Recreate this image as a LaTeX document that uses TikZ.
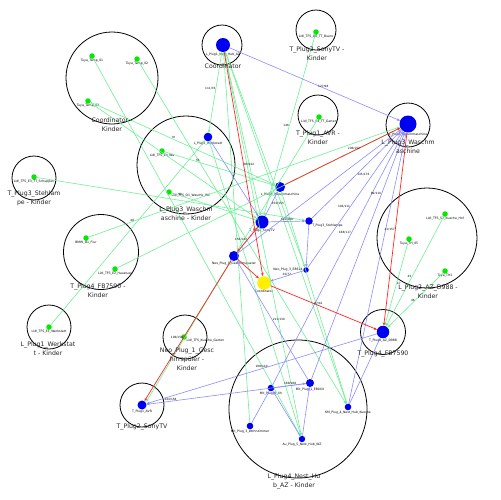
\documentclass[tikz,border=0pt]{standalone}
\usepackage{fontspec}
\setmainfont{DejaVu Sans}
\usetikzlibrary{arrows.meta}
\definecolor{gnode}{RGB}{0,235,0}
\definecolor{gedge}{RGB}{110,240,150}
\definecolor{bedge}{RGB}{140,140,255}
\definecolor{redge}{RGB}{255,40,40}
\definecolor{bnode}{RGB}{0,0,240}
\definecolor{ynode}{RGB}{255,240,0}
\begin{document}
\begin{tikzpicture}[x=1pt,y=-1pt,
  clu/.style={circle, draw=black, line width=0.8pt, inner sep=0, minimum size=#1},
  ct/.style={font=\fontsize{6.2}{9}\selectfont, align=center, text=black!85, inner sep=0},
  lb/.style={font=\fontsize{3.1}{3.5}\selectfont, inner sep=0.3pt},
  gn/.style={circle, fill=gnode, inner sep=0, minimum size=5.5pt, label distance=0.6pt},
  bn/.style={circle, fill=bnode, inner sep=0, minimum size=#1, label distance=0.8pt},
  yn/.style={circle, fill=ynode, inner sep=0, minimum size=#1, label distance=0.8pt},
  el/.style={font=\fontsize{2.9}{3.3}\selectfont, inner sep=0.2pt},
  arr/.style={-{Stealth[length=3.2pt,width=2.6pt]}},
  ge/.style={draw=gedge, line width=0.6pt, arr},
  be/.style={draw=bedge, line width=0.6pt, arr},
  re/.style={draw=redge, line width=0.7pt, arr}]
\useasboundingbox[fill=white] (0,0) rectangle (501,499);

% clusters
\node[clu=92pt] (kCK) at (112,78) {};
\node[clu=40pt] (kC) at (222,45) {};
\node[clu=40pt] (kS2) at (316,30) {};
\node[clu=40pt] (kA1) at (318,115) {};
\node[clu=44pt] (kWM) at (408,125) {};
\node[clu=98pt] (kWK) at (186,165) {};
\node[clu=44pt] (kSL) at (34,178) {};
\node[clu=75pt] (kFBK) at (101,252) {};
\node[clu=44pt] (kWS) at (49,327) {};
\node[clu=44pt] (kNeo) at (185,337) {};
\node[clu=44pt] (kTV) at (142,405) {};
\node[clu=45pt] (kFB) at (383,332) {};
\node[clu=100pt] (kAZ) at (427,238) {};
\node[clu=138pt] (kNH) at (298,409) {};

% green end devices
\node[gn, label={[lb]below:Tuya\_Temp\_01}] (t1) at (92,56) {};
\node[gn, label={[lb]below:Tuya\_Temp\_02}] (t2) at (137,59) {};
\node[gn, label={[lb]below:Tuya\_Temp\_03}] (t3) at (88,101) {};
\node[gn, label={[lb]below:Lidl\_TFS\_O6\_TT\_Buero}] (s2c) at (316,32) {};
\node[gn, label={[lb]below:Lidl\_TFS\_S4\_TT\_Garten}] (avc) at (319,117) {};
\node[gn, label={[lb]below:Lidl\_TFS\_E4\_Wa}] (e4) at (162,151) {};
\node[gn, label={[lb]below right:Lidl\_TFS\_O1\_Waschk\_WC}] (o1) at (169,192) {};
\node[gn, label={[lb]below:Lidl\_TFS\_E3\_TT\_Schuppen}] (e3) at (34,177) {};
\node[gn, label={[lb]below:BMW\_O1\_Flur}] (bmw) at (86,238) {};
\node[gn, label={[lb]below:Lidl\_TFS\_E2\_Haustuer}] (e2) at (115,269) {};
\node[gn, label={[lb]below:Lidl\_TFS\_E1\_Werkstatt}] (e1) at (49,327) {};
\node[gn, label={[lb]below right:Lidl\_TFS\_Kueche\_Garten}] (kg) at (184,337) {};
\node[gn, label={[lb]below:Lidl\_TFS\_S2\_Kueche\_Hof}] (kh) at (445,214) {};
\node[gn, label={[lb]below:Tuya\_TH\_05}] (th5) at (409,239) {};
\node[gn, label={[lb]below:Tuya\_TH1}] (th1) at (445,271) {};

% routers
\node[bn=14pt, label={[lb]below:L\_Plug1\_Nest\_Hub\_AZ}] (co) at (223,45) {};
\node[bn=17pt, label={[lb]below:L\_Plug3\_Waschmaschine}] (wm) at (408,124) {};
\node[bn=8.6pt, label={[lb]below:L\_Plug1\_Werkstatt}] (lw) at (208,137) {};
\node[bn=13pt, label={[lb]below:T\_Plug2\_SonyTV}] (ts) at (262,222) {};
\node[bn=10pt, label={[lb]below:L\_Plug3\_Waschmaschine}] (lwm) at (280,187) {};
\node[bn=7.5pt, label={[lb]below right:T\_Plug3\_Stehlampe}] (st) at (309,221) {};
\node[bn=10pt, label={[lb]below:Neo\_Plug\_1\_Geschirrspueler}] (neo) at (234,256) {};
\node[bn=5.5pt, label={[lb]left:Neo\_Plug\_3\_E8614}] (n3) at (306,270) {};
\node[yn=13.5pt, label={[lb]below:Coordinator}] (yel) at (264,283) {};
\node[bn=12.5pt, label={[lb]below:T\_Plug4\_AZ\_D988}] (fb) at (383,332) {};
\node[bn=9pt, label={[lb]below:T\_Plug1\_AVR}] (tv) at (142,405) {};
\node[bn=8pt, label={[lb]below:Mit\_Plug\_1\_EB0XX}] (p1) at (310,383) {};
\node[bn=6.6pt, label={[lb]below:Mit\_Plug\_2\_Xh}] (p2) at (271,388) {};
\node[bn=6.6pt, label={[lb]below:Mit\_Plug\_3\_Wohnzimmer}] (p3) at (250,426) {};
\node[bn=6.4pt, label={[lb]below:Au\_Plug\_5\_Nest\_Hub\_WZ}] (p5) at (302,439) {};
\node[bn=6.6pt, label={[lb]below:KM\_Plug\_4\_Nest\_Hub\_Kueche}] (km) at (348,407) {};

% green edges
\draw[ge] (t1) -- (p5);
\draw[ge] (t2) -- (km);
\draw[ge] (t3) -- (ts);
\draw[ge] (s2c) -- node[el, pos=0.5, left]{146} (ts);
\draw[ge] (avc) -- (neo);
\draw[ge] (e3) -- (st);
\draw[ge] (bmw) -- node[el, pos=0.14, above]{46} (wm);
\draw[ge] (e2) -- (wm);
\draw[ge] (e1) -- (lw);
\draw[ge] (kg) -- (neo);
\draw[ge] ([xshift=1pt]neo.south west) -- ([xshift=1pt]tv.north east);
\draw[ge] (kh) -- node[el, pos=0.55, left]{45} (fb);
\draw[ge] (th5) -- node[el, pos=0.5, right]{47} (fb);
\draw[ge] (th1) -- node[el, pos=0.5, left]{46} (fb);
\draw[ge] (co) -- node[el, pos=0.45, left]{111/76} (lw);
\draw[ge] (co) -- (km);
\draw[ge] (co) -- (p5);
\draw[ge] (co) -- (ts);
\draw[ge] (co) -- (n3);
\draw[ge] (p3) -- (co);
\draw[ge] (p5) -- (lw);
\draw[ge] (km) -- (lwm);
\draw[ge] (e4) -- node[el, pos=0.3, above]{55} (lwm);
\draw[ge] (o1) -- node[el, pos=0.1, above]{51} (ts);
\draw[ge] (t3) -- node[el, pos=0.45, above]{M} (lwm);

% blue edges
\draw[be] (co) -- node[el, pos=0.55, above]{127/98} (wm);
\draw[be] (ts) -- node[el, pos=0.5, above]{180/180} (st);
\draw[be] (lw) -- (ts);
\draw[be] (neo) -- (wm);
\draw[be] (st) -- node[el, pos=0.5, right]{145/176} (wm);
\draw[be] (n3) -- node[el, pos=0.45, left]{146/111} (wm);
\draw[be] (p2) -- node[el, pos=0.6, left]{168/117} (wm);
\draw[be] (p1) -- node[el, pos=0.75, left]{89/110} (wm);
\draw[be] (km) -- (wm);
\draw[be] (fb) -- node[el, pos=0.5, above]{188/140} (tv);
\draw[be] (p1) -- node[el, pos=0.85, above]{244/158} (tv);
\draw[be] (p1) -- node[el, pos=0.5, right]{211/130} (neo);
\draw[be] (p3) -- (p2);
\draw[be] (p5) -- (p2);
\draw[be] (p5) -- (p1);
\draw[be] (km) -- (fb);
\draw[be] (st) -- (n3);
\draw[be] (ts) -- node[el, pos=0.5, right]{150/155} (lwm);
\draw[be] (n3) -- node[el, pos=0.5, above]{20/77} (yel);
\draw[be] (neo) -- node[el, pos=0.5, left]{150/147} (ts);
\draw[be] (p2) -- node[el, pos=0.5, above]{188/188} (p1);

% red edges
\draw[re] (co) -- node[el, pos=0.5, right]{80/102} (yel);
\draw[re] (lwm) -- node[el, pos=0.6, above]{206/152} (wm);
\draw[re] (wm) -- node[el, pos=0.5, left]{41/157} (fb);
\draw[re] (yel) -- node[el, pos=0.45, above]{97/42} (fb);
\draw[re] (neo) -- node[el, pos=0.55, left]{196/158} (tv);
\draw[re] (ts) -- (neo);
\draw[re] (neo) -- (yel);

% cluster labels
\node[ct] (lCK) at (112,124.5) {Coordinator -\\Kinder};
\node[ct] (lC) at (223,66) {Coordinator};
\node[ct] (lS2) at (317,53.5) {T\_Plug2\_SonyTV -\\Kinder};
\node[ct] (lA1) at (318,138) {T\_Plug1\_AVR -\\Kinder};
\node[ct] (lWM) at (408,146.5) {L\_Plug3\_Waschm\\aschine};
\node[ct] (lWK) at (186,213.5) {L\_Plug3\_Waschm\\aschine - Kinder};
\node[ct] (lSL) at (34,198.5) {T\_Plug3\_Stehlam\\pe - Kinder};
\node[ct] (lFBK) at (98,291) {T\_Plug4\_FB7590 -\\Kinder};
\node[ct] (lWS) at (48,348.5) {L\_Plug1\_Werkstat\\t - Kinder};
\node[ct] (lNeo) at (187,359.5) {Neo\_Plug\_1\_Gesc\\hirrspüler -\\Kinder};
\node[ct] (lTV) at (142,427) {T\_Plug2\_SonyTV};
\node[ct] (lFB) at (383,353.5) {T\_Plug4\_FB7590};
\node[ct] (lAZ) at (428,292) {L\_Plug2\_AZ\_D988 -\\Kinder};
\node[ct] (lNH) at (294,481.5) {L\_Plug4\_Nest\_Hu\\b\_AZ - Kinder};
\end{tikzpicture}
\end{document}
